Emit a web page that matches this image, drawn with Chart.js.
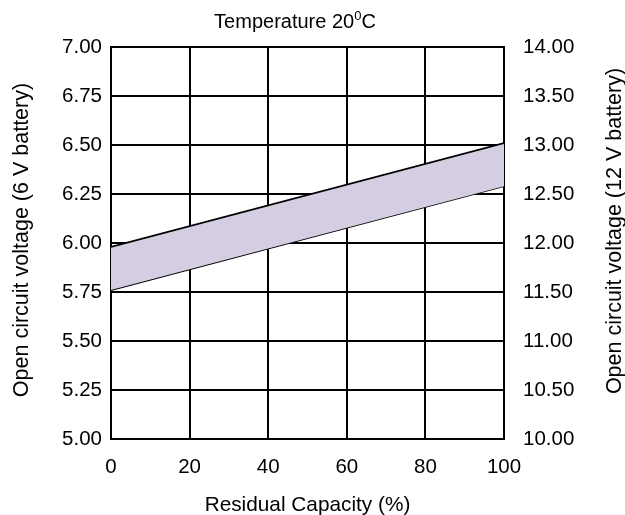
<!DOCTYPE html>
<html lang="en">
<head>
    <meta charset="UTF-8">
    <title>Open circuit voltage vs residual capacity</title>
    <script src="https://cdn.jsdelivr.net/npm/chart.js"></script>
    <style>
        body {
            margin: 0;
            background-color: white;
        }
        #wrap {
            width: 625px;
            height: 515px;
        }
    </style>
</head>
<body>
    <div id="wrap"><canvas id="voltChart" width="625" height="515"></canvas></div>

    <script>
        // residual capacity (%) at band ends
        const capacity = [0, 100];
        // upper and lower edge of the voltage band (6 V battery)
        const upperVolt = [5.98, 6.51];
        const lowerVolt = [5.76, 6.29];
        const xTicks = [0, 20, 40, 60, 80, 100];
        const leftTicks = ['5.00', '5.25', '5.50', '5.75', '6.00', '6.25', '6.50', '6.75', '7.00'];
        const rightTicks = ['10.00', '10.50', '11.00', '11.50', '12.00', '12.50', '13.00', '13.50', '14.00'];

        const FONT = 'Liberation Sans, Arial, sans-serif';
        const SIZE = 20.5;

        // title with superscript "0", and both vertical axis titles reading bottom-to-top
        const textPlugin = {
            id: 'extraText',
            afterDraw(chart) {
                const ctx = chart.ctx;
                const main = 'Temperature 20';
                const sup = '0';
                const tail = 'C';
                ctx.save();
                ctx.fillStyle = '#000';
                ctx.textBaseline = 'alphabetic';
                ctx.textAlign = 'left';
                ctx.font = '20px ' + FONT;
                const w1 = ctx.measureText(main).width;
                const w3 = ctx.measureText(tail).width;
                ctx.font = '13px ' + FONT;
                const w2 = ctx.measureText(sup).width;
                let x = 295 - (w1 + w2 + w3) / 2;
                const y = 28;
                ctx.font = '20px ' + FONT;
                ctx.fillText(main, x, y);
                x += w1;
                ctx.font = '13px ' + FONT;
                ctx.fillText(sup, x, y - 8);
                x += w2;
                ctx.font = '20px ' + FONT;
                ctx.fillText(tail, x, y);

                ctx.font = '21.5px ' + FONT;
                ctx.textAlign = 'center';
                const vtitle = (text, bx, cy) => {
                    ctx.save();
                    ctx.translate(bx, cy);
                    ctx.rotate(-Math.PI / 2);
                    ctx.fillText(text, 0, 0);
                    ctx.restore();
                };
                vtitle('Open circuit voltage (6 V battery)', 28, 240);
                vtitle('Open circuit voltage (12 V battery)', 621, 231);
                ctx.restore();
            }
        };

        const ctx = document.getElementById('voltChart').getContext('2d');
        new Chart(ctx, {
            type: 'line',
            data: {
                datasets: [{
                    label: 'Upper',
                    data: capacity.map((c, i) => ({x: c, y: upperVolt[i]})),
                    borderColor: '#000',
                    borderWidth: 1.8,
                    backgroundColor: '#d5cde2',
                    pointRadius: 0,
                    fill: '+1'
                }, {
                    label: 'Lower',
                    data: capacity.map((c, i) => ({x: c, y: lowerVolt[i]})),
                    borderColor: '#000',
                    borderWidth: 1.8,
                    pointRadius: 0,
                    fill: false
                }]
            },
            options: {
                responsive: false,
                animation: false,
                layout: {padding: {top: 47, left: 0, right: 0, bottom: 0}},
                plugins: {
                    legend: {display: false},
                    title: {display: false},
                    tooltip: {enabled: false}
                },
                scales: {
                    x: {
                        type: 'linear',
                        min: 0,
                        max: 100,
                        afterFit: s => { s.height = 76; },
                        afterBuildTicks: s => { s.ticks = xTicks.map(v => ({value: v})); },
                        border: {color: '#000', width: 2},
                        grid: {color: '#000', lineWidth: 2, drawTicks: false},
                        ticks: {
                            color: '#000',
                            padding: 16,
                            maxRotation: 0,
                            font: {family: FONT, size: SIZE}
                        },
                        title: {
                            display: true,
                            text: 'Residual Capacity (%)',
                            color: '#000',
                            font: {family: FONT, size: 20.8, lineHeight: 0.9},
                            padding: {top: 0, bottom: 0}
                        }
                    },
                    y: {
                        position: 'left',
                        min: 5,
                        max: 7,
                        afterFit: s => { s.width = 111; },
                        afterBuildTicks: s => { s.ticks = leftTicks.map(v => ({value: parseFloat(v)})); },
                        border: {color: '#000', width: 2},
                        grid: {color: '#000', lineWidth: 2, drawTicks: false},
                        ticks: {
                            color: '#000',
                            padding: 9,
                            font: {family: FONT, size: SIZE},
                            callback: (v, i) => leftTicks[i]
                        }
                    },
                    y2: {
                        position: 'right',
                        min: 10,
                        max: 14,
                        afterFit: s => { s.width = 121; },
                        afterBuildTicks: s => { s.ticks = rightTicks.map(v => ({value: parseFloat(v)})); },
                        border: {color: '#000', width: 2},
                        grid: {drawOnChartArea: false, drawTicks: false},
                        ticks: {
                            color: '#000',
                            padding: 19,
                            font: {family: FONT, size: SIZE},
                            callback: (v, i) => rightTicks[i]
                        }
                    }
                }
            },
            plugins: [textPlugin]
        });
    </script>
</body>
</html>
